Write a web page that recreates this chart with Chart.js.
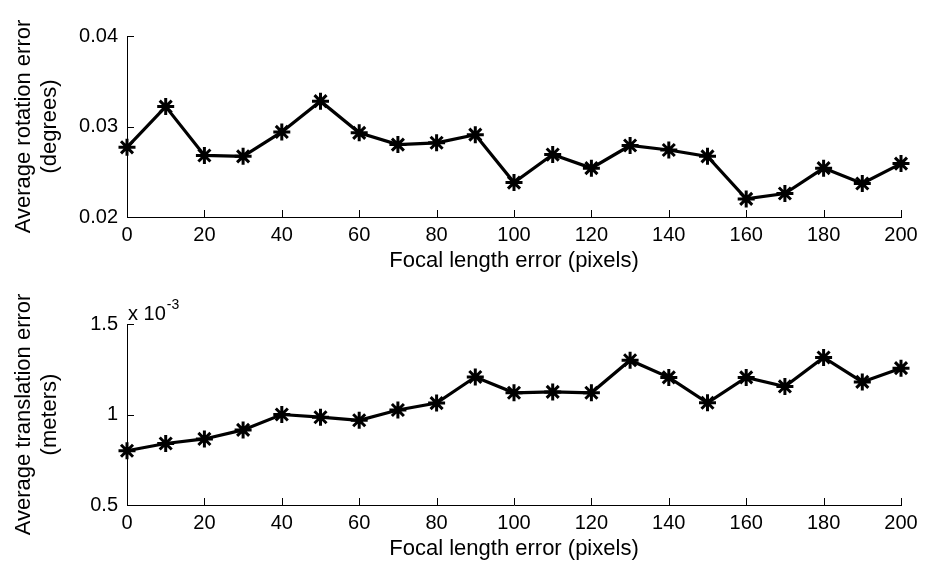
<!DOCTYPE html>
<html>
<head>
<meta charset="utf-8">
<script src="https://cdn.jsdelivr.net/npm/chart.js@4.4.1/dist/chart.umd.min.js"></script>
<style>
  html, body { margin: 0; padding: 0; background: #fff; }
  body { width: 933px; height: 573px; position: relative; overflow: hidden; }
  .box { position: absolute; left: 0; width: 933px; height: 286px; }
</style>
</head>
<body>
<div class="box" style="top:0"><canvas id="rotChart"></canvas></div>
<div class="box" style="top:288px"><canvas id="transChart"></canvas></div>
<script>
// focal length error (pixels)
const focalErrors = [0, 10, 20, 30, 40, 50, 60, 70, 80, 90, 100, 110, 120, 130, 140, 150, 160, 170, 180, 190, 200];
// average rotation error (degrees)
const rotationErrors = [0.0277, 0.0322, 0.0268, 0.0267, 0.0294, 0.0328, 0.0293, 0.0280, 0.0282, 0.0291, 0.0238,
                        0.0269, 0.0254, 0.0279, 0.0274, 0.0267, 0.0220, 0.0226, 0.0254, 0.0237, 0.0259];
// average translation error (meters, x 10^-3)
const translationErrors = [0.80, 0.84, 0.865, 0.915, 1.0, 0.985, 0.968, 1.025, 1.063, 1.207, 1.12,
                           1.125, 1.12, 1.30, 1.205, 1.065, 1.205, 1.155, 1.315, 1.18, 1.256];

const xTicks = [0, 20, 40, 60, 80, 100, 120, 140, 160, 180, 200];
const rotTicks = [0.02, 0.03, 0.04];
const rotTickLabels = ['0.02', '0.03', '0.04'];
const transTicks = [0.5, 1, 1.5];
const transTickLabels = ['0.5', '1', '1.5'];

const FONT = "'Liberation Sans', Arial, Helvetica, sans-serif";

// MATLAB-style ticks pointing into the plot, plus the exponent note
const innerTicks = {
  id: 'innerTicks',
  afterDraw(chart, args, opts) {
    const c = chart.ctx, x = chart.scales.x, y = chart.scales.y;
    const area = chart.chartArea;
    c.save();
    c.strokeStyle = '#000';
    c.lineWidth = 1;
    c.beginPath();
    x.ticks.forEach(t => {
      const px = Math.round(x.getPixelForValue(t.value)) + 0.5;
      c.moveTo(px, area.bottom);
      c.lineTo(px, area.bottom - 7);
    });
    y.ticks.forEach(t => {
      const py = Math.round(y.getPixelForValue(t.value)) + 0.5;
      c.moveTo(area.left, py);
      c.lineTo(area.left + 7, py);
    });
    c.stroke();
    if (opts.exponent) {
      c.fillStyle = '#000';
      c.textBaseline = 'alphabetic';
      c.font = '20px ' + FONT;
      c.fillText('x 10', area.left + 1, area.top - 4);
      const w = c.measureText('x 10').width;
      c.font = '14px ' + FONT;
      c.fillText('-3', area.left + 1 + w + 1, area.top - 15);
    }
    c.restore();
  }
};

function makeChart(id, values, yMin, yMax, tickVals, tickLabels, yTitle, exponent) {
  const ctx = document.getElementById(id).getContext('2d');
  return new Chart(ctx, {
    type: 'line',
    data: {
      datasets: [{
        data: focalErrors.map((f, i) => ({ x: f, y: values[i] })),
        borderColor: '#000',
        backgroundColor: '#000',
        borderWidth: 3.2,
        pointStyle: 'star',
        pointRadius: 8.5,
        pointHoverRadius: 8.5,
        pointBorderWidth: 3,
        pointBorderColor: '#000',
        fill: false,
        tension: 0,
        clip: false
      }]
    },
    options: {
      responsive: false,
      animation: false,
      events: [],
      layout: { padding: { left: 0, right: 32, top: 36, bottom: 0 } },
      plugins: {
        legend: { display: false },
        tooltip: { enabled: false },
        innerTicks: { exponent: exponent }
      },
      scales: {
        x: {
          type: 'linear',
          min: 0, max: 200,
          afterFit: s => { s.height = 69; },
          afterBuildTicks: s => { s.ticks = xTicks.map(v => ({ value: v })); },
          grid: { display: false, drawTicks: false },
          border: { display: true, color: '#000', width: 1 },
          ticks: { color: '#000', padding: 6, maxRotation: 0, font: { family: FONT, size: 20 },
                   callback: v => String(v) },
          title: { display: true, text: 'Focal length error (pixels)', color: '#000',
                   font: { family: FONT, size: 22 }, padding: { top: 0, bottom: 12 } }
        },
        y: {
          min: yMin, max: yMax,
          afterFit: s => { s.width = 127; },
          afterBuildTicks: s => { s.ticks = tickVals.map(v => ({ value: v })); },
          grid: { display: false, drawTicks: false },
          border: { display: true, color: '#000', width: 1 },
          ticks: { color: '#000', padding: 9, font: { family: FONT, size: 20 },
                   callback: (v, i) => tickLabels[i] },
          title: { display: true, text: yTitle, color: '#000',
                   font: { family: FONT, size: 22, lineHeight: '26px' }, padding: { top: 11, bottom: 0 } }
        }
      }
    },
    plugins: [innerTicks]
  });
}

const c1 = document.getElementById('rotChart');
c1.width = 933; c1.height = 286;
const c2 = document.getElementById('transChart');
c2.width = 933; c2.height = 286;

makeChart('rotChart', rotationErrors, 0.02, 0.04, rotTicks, rotTickLabels,
          ['Average rotation error', '(degrees)'], false);
makeChart('transChart', translationErrors, 0.5, 1.5, transTicks, transTickLabels,
          ['Average translation error', '(meters)'], true);
</script>
</body>
</html>
